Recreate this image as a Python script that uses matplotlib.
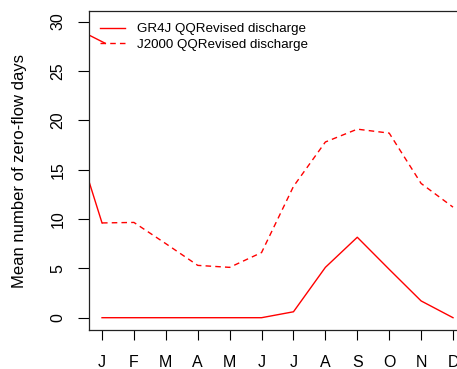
import matplotlib
matplotlib.use("Agg")
import matplotlib.pyplot as plt

plt.rcParams['font.family'] = ['Liberation Sans', 'DejaVu Sans']

months = ["J", "F", "M", "A", "M", "J", "J", "A", "S", "O", "N", "D"]
month_pos = [1, 2, 3, 4, 5, 6, 7, 8, 9, 10, 11, 12]

gr4j = [0, 0, 0, 0, 0, 0, 0.6, 5.1, 8.15, 4.9, 1.7, 0]
j2000 = [9.6, 9.65, 7.5, 5.3, 5.1, 6.6, 13.3, 17.8, 19.1, 18.7, 13.6, 11.2]

# segments that come in from the left edge (clipped in the original)
edge_x = [0.0, 1.0]
edge_low = [19.9, 9.6]
edge_top_x = [0.0, 1.1]
edge_top = [29.6, 27.8]

W, H = 457, 369
fig = plt.figure(figsize=(W / 100, H / 100), dpi=100)
ax = fig.add_axes([89 / W, (H - 330) / H, (W - 89) / W, (330 - 11) / H])

ax.plot(month_pos, gr4j, color="red", lw=1.0, label="GR4J QQRevised discharge")
ax.plot(month_pos, j2000, color="red", lw=1.0, ls=(0, (4, 3)),
        label="J2000 QQRevised discharge")
ax.plot(edge_x, edge_low, color="red", lw=1.0)
ax.plot(edge_top_x, edge_top, color="red", lw=1.0)

ax.set_xlim(0.592, 12.125)
ax.set_ylim(-1.246, 31.07)

ax.set_xticks(month_pos)
ax.set_xticklabels(months)
ax.set_yticks([0, 5, 10, 15, 20, 25, 30])
ax.tick_params(axis="x", length=7.2, width=0.8, pad=10.5, labelsize=11.5)
ax.tick_params(axis="y", length=7.9, width=0.8, pad=9, labelsize=11.5,
               labelrotation=90)
for lab in ax.get_yticklabels():
    lab.set_va("center")

ax.spines["right"].set_visible(False)
for s in ["left", "top", "bottom"]:
    ax.spines[s].set_linewidth(0.9)
    ax.spines[s].set_color("#222222")

fig.text(19.5 / W, 1 - 170.5 / H, "Mean number of zero-flow days",
         rotation=90, ha="center", va="center", fontsize=12)

ax.legend(loc="upper left", bbox_to_anchor=(11 / 368, 1 - 12 / 319),
          frameon=False, fontsize=9.6, handlelength=1.88, handletextpad=0.9,
          labelspacing=0.25, borderpad=0, borderaxespad=0)

fig.savefig("out.png", dpi=100)
